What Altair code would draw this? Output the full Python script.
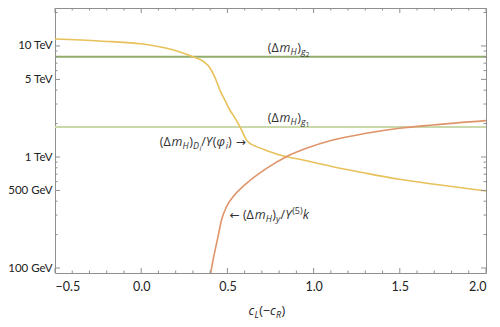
import altair as alt
import pandas as pd

# ---------------- data ----------------
c_yellow = [-0.5, -0.24, 0.05, 0.22, 0.30, 0.36, 0.40, 0.43, 0.456, 0.49, 0.514, 0.54,
            0.562, 0.582, 0.611, 0.64, 0.669, 0.746, 0.804, 0.919, 1.111, 1.306, 1.499, 1.69, 2.0]
v_yellow = [11560, 11090, 10210, 8890, 8010, 7250, 6300, 5100, 4020, 3150, 2650, 2300,
            2010, 1750, 1420, 1300, 1240, 1117, 1042, 953, 818, 713, 630, 571, 495]

c_orange = [0.40, 0.42, 0.445, 0.466, 0.495, 0.533, 0.611, 0.727, 0.842, 0.958, 1.111,
            1.306, 1.499, 1.69, 2.0]
v_orange = [85, 125, 190, 271, 357, 439, 579, 791, 1007, 1197, 1422, 1636, 1815, 1942, 2125]

g2_value = 8000
g1_value = 1860

x_major = [-0.5, 0.0, 0.5, 1.0, 1.5, 2.0]
x_minor = [-0.4, -0.3, -0.2, -0.1, 0.1, 0.2, 0.3, 0.4, 0.6, 0.7, 0.8, 0.9,
           1.1, 1.2, 1.3, 1.4, 1.6, 1.7, 1.8, 1.9]
y_major = [100, 500, 1000, 5000, 10000]
y_minor = [200, 300, 400, 600, 700, 800, 900, 2000, 3000, 4000, 6000, 7000, 8000, 9000, 20000]

X_DOMAIN = [-0.5, 2.0]
Y_DOMAIN = [90.2, 21980]

# ---------------- style ----------------
W, H = 431, 265
FONT = "Lato"
AFONT = "Open Sans"
ARROWFONT = "DejaVu Sans"
FRAME = "#8f8f8f"
YELLOW = "#e8c15a"
ORANGE = "#e0946a"
GREEN2 = "#8fae6b"
GREEN1 = "#c9d9ab"
TXT = "#333333"

xaxis = alt.Axis(values=x_major, format=".1f", ticks=False, domain=False, grid=False,
                 labelFont=FONT, labelFontSize=12.5, labelColor="#222", labelPadding=7,
                 title=None)
yaxis = alt.Axis(values=y_major, ticks=False, domain=False, grid=False,
                 labelExpr="datum.value >= 1000 ? (datum.value/1000) + ' TeV' : datum.value + ' GeV'",
                 labelFont=FONT, labelFontSize=11.5, labelColor="#222", labelPadding=3,
                 title=None)
xs = alt.Scale(domain=X_DOMAIN, nice=False, zero=False)
ys = alt.Scale(type="log", domain=Y_DOMAIN, nice=False, zero=False)
xenc = alt.X("c:Q", scale=xs, axis=xaxis)
yenc = alt.Y("v:Q", scale=ys, axis=yaxis)

layers = []

# horizontal reference lines
for val, col in [(g1_value, GREEN1), (g2_value, GREEN2)]:
    layers.append(
        alt.Chart(pd.DataFrame({"v": [val]})).mark_rule(color=col, strokeWidth=2)
        .encode(y=yenc, x=alt.value(0), x2=alt.value(W))
    )

# curves
layers.append(
    alt.Chart(pd.DataFrame({"c": c_yellow, "v": v_yellow})).mark_line(
        color=YELLOW, strokeWidth=1.6, interpolate="monotone", clip=True)
    .encode(x=xenc, y=yenc)
)
layers.append(
    alt.Chart(pd.DataFrame({"c": c_orange, "v": v_orange})).mark_line(
        color=ORANGE, strokeWidth=1.6, interpolate="monotone", clip=True)
    .encode(x=xenc, y=yenc)
)

# frame ticks (inward)
def xticks(vals, length):
    df = pd.DataFrame({"c": vals})
    bot = alt.Chart(df).mark_rule(color=FRAME, strokeWidth=1).encode(
        x=xenc, y=alt.value(H), y2=alt.value(H - length))
    top = alt.Chart(df).mark_rule(color=FRAME, strokeWidth=1).encode(
        x=xenc, y=alt.value(0), y2=alt.value(length))
    return [bot, top]

def yticks(vals, length):
    df = pd.DataFrame({"v": vals})
    left = alt.Chart(df).mark_rule(color=FRAME, strokeWidth=1).encode(
        y=yenc, x=alt.value(0), x2=alt.value(length))
    right = alt.Chart(df).mark_rule(color=FRAME, strokeWidth=1).encode(
        y=yenc, x=alt.value(W), x2=alt.value(W - length))
    return [left, right]

layers += xticks(x_major, 5) + xticks(x_minor, 2.5)
layers += yticks(y_major, 5) + yticks(y_minor, 2.5)

# rich text labels built from pieces
CW = {'(': 0.30, ')': 0.30, 'Δ': 0.64, 'm': 0.88, 'H': 0.74, 'g': 0.52, '1': 0.57,
      '2': 0.57, '5': 0.57, '/': 0.37, 'Y': 0.56, 'φ': 0.74, 'i': 0.25, 'D': 0.72,
      'y': 0.50, 'k': 0.50, 'c': 0.48, 'L': 0.52, 'R': 0.60, '−': 0.57, '→': 0.84,
      '←': 0.84, ' ': 0.30}

def rich(c0, v0, pieces, dx0=0.0, dy0=0.0, color=TXT):
    out = []
    dx = dx0
    df = pd.DataFrame({"c": [c0], "v": [v0]})
    for text, size, italic, dy in pieces:
        if text is None:          # explicit horizontal gap of `size` px
            dx += size
            continue
        font = ARROWFONT if text in ("→", "←") else AFONT
        out.append(
            alt.Chart(df).mark_text(
                text=text, align="left", baseline="alphabetic", dx=dx, dy=dy0 + dy,
                fontSize=size, font=font, fontStyle="italic" if italic else "normal",
                color=color)
            .encode(x=xenc, y=yenc)
        )
        dx += sum(CW.get(ch, 0.55) for ch in text) * size
    return out

M, S, SS = 12.5, 9, 7

def gl(num):
    return [("(Δ", M, False, 0), ("m", M, True, 0), ("H", S, True, 3),
            (")", M, False, 0), ("g", S, True, 3), (num, SS, False, 5)]

layers += rich(0.734, g2_value, gl("2"), dy0=-5)
layers += rich(0.734, g1_value, gl("1"), dy0=-5)

layers += rich(0.108, 1260, [("(Δ", M, False, 0), ("m", M, True, 0), ("H", S, True, 3),
                             (")", M, False, 0), ("D", S, True, 3), ("i", SS, True, 5),
                             ("/", M, False, 0), ("Y", M, True, 0), ("(", M, False, 0),
                             ("φ", M, True, 0), ("i", S, True, 3), (")", M, False, 0),
                             (None, 4, False, 0), ("→", 12, False, 0)])

layers += rich(0.514, 276, [("←", 12, False, 0), (None, 3, False, 0),
                            ("(Δ", M, False, 0), ("m", M, True, 0), ("H", S, True, 3),
                            (")", M, False, 0), ("y", S, True, 3), ("/", M, False, 0),
                            ("Y", M, True, 0), ("(5)", S, False, -5), ("k", M, True, 0)])

# x-axis title c_L(−c_R)
layers += rich(0.75, Y_DOMAIN[0], [("c", 12.5, True, 0), ("L", 9, True, 2.5),
                                  ("(−", 12.5, False, 0), ("c", 12.5, True, 0),
                                  ("R", 9, True, 2.5), (")", 12.5, False, 0)],
               dx0=-22, dy0=42, color="#222")

chart = alt.layer(*layers).properties(
    width=W, height=H,
    autosize=alt.AutoSizeParams(type="none"),
    padding={"left": 47, "top": 0, "right": 6, "bottom": 46},
).configure_view(stroke=FRAME, strokeWidth=1)

chart.save("out.html", embed_options={"renderer": "svg", "actions": False})
